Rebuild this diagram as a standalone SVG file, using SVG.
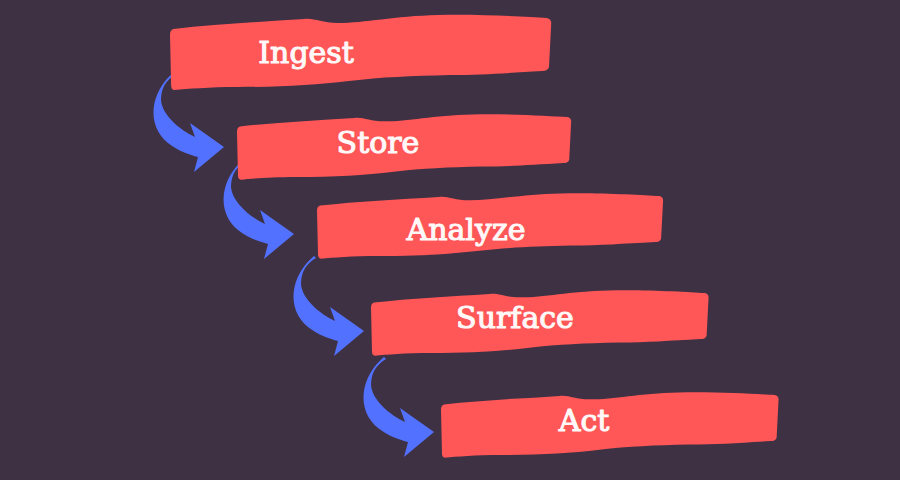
<svg xmlns="http://www.w3.org/2000/svg" xmlns:xlink="http://www.w3.org/1999/xlink" width="900" height="480" viewBox="0 0 900 480">
<defs>
<style>
.box{fill:#ff5757}
.lbl{font-family:"DejaVu Serif","Liberation Serif",serif;font-size:30px;fill:#fff8f8;text-anchor:middle;stroke:#fff8f8;stroke-width:1.1px;stroke-linejoin:round}
.arr{fill:#5271ff}
</style>
<path id="brush" d="M 3,14 C 40,9 80,7 120,4 C 130,3 135,8 150,8 C 175,8 200,1 240,0 C 280,-1 320,2 337,3 Q 341,4 341,8 L 339,52 Q 338,56 333,56 C 300,58 280,60 250,60 C 215,61 190,62 160,66 C 130,70 100,72 60,72 C 35,72 15,74 4,75 Q 1,75 1,70 L 0,20 Q 0,15 3,14 Z"/>
<path id="curve" d="M 174,72 C 150,92 146,125 168,143 C 178,151 190,155 198,157 L 194,172 L 224,147 L 190,123 L 195,137 C 180,130 162,115 161,100 C 161,88 166,80 176,74 Z"/>
</defs>
<rect width="900" height="480" fill="#3e3144"/>
<g id="connectors">
<use xlink:href="#curve" class="arr"/>
<use xlink:href="#curve" class="arr" transform="translate(70,87)"/>
<use xlink:href="#curve" class="arr" transform="translate(140,184)"/>
<use xlink:href="#curve" class="arr" transform="translate(210,285)"/>
</g>
<g id="ingest">
<use xlink:href="#brush" class="box" transform="translate(170,15) scale(1.118,1)"/>
<text class="lbl" x="306" y="63">Ingest</text>
</g>
<g id="store">
<use xlink:href="#brush" class="box" transform="translate(237,114.4) scale(0.98,0.87)"/>
<text class="lbl" x="378" y="153">Store</text>
</g>
<g id="analyze">
<use xlink:href="#brush" class="box" transform="translate(317,193.4) scale(1.015,0.87)"/>
<text class="lbl" x="466" y="240">Analyze</text>
</g>
<g id="surface">
<use xlink:href="#brush" class="box" transform="translate(371,290.4) scale(0.99,0.87)"/>
<text class="lbl" x="515" y="328">Surface</text>
</g>
<g id="act">
<use xlink:href="#brush" class="box" transform="translate(441,392.4) scale(0.99,0.87)"/>
<text class="lbl" x="584" y="431">Act</text>
</g>
</svg>
